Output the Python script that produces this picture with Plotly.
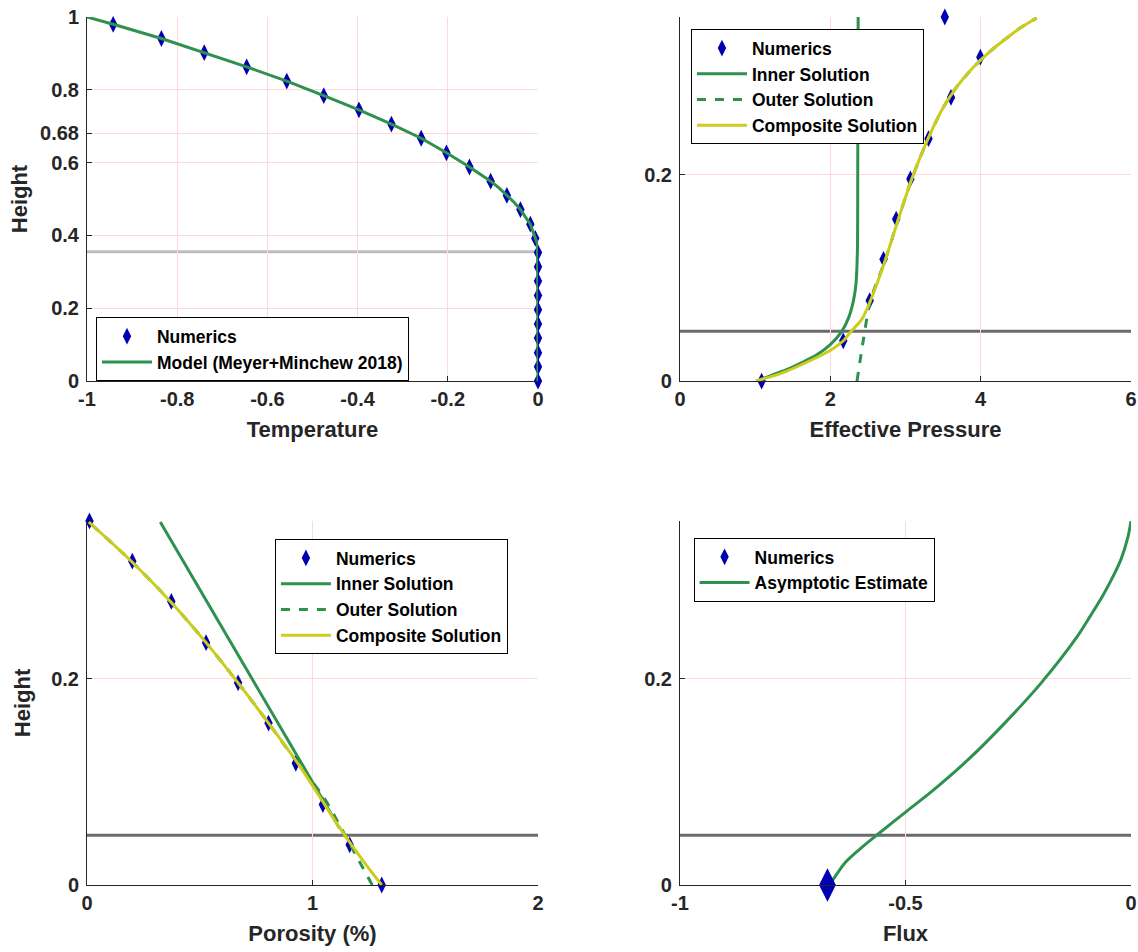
import plotly.graph_objects as go
from plotly.subplots import make_subplots

# ---------------- Panel 1: Temperature ----------------
temp_num_T = [0, 0, 0, 0, 0, 0, 0, 0, 0, 0, -0.006, -0.017, -0.039, -0.069, -0.105, -0.152,
              -0.203, -0.259, -0.325, -0.397, -0.475, -0.557, -0.646, -0.740, -0.835, -0.942]
temp_num_z = [0, 0.039, 0.078, 0.118, 0.157, 0.196, 0.235, 0.275, 0.314, 0.353, 0.392, 0.431,
              0.471, 0.510, 0.549, 0.588, 0.627, 0.667, 0.706, 0.745, 0.784, 0.824, 0.863,
              0.902, 0.941, 0.980]
temp_model_T = [0, 0, 0, -0.001, -0.003, -0.006, -0.011, -0.017, -0.027, -0.039, -0.052, -0.069,
                -0.086, -0.105, -0.152, -0.203, -0.259, -0.325, -0.397, -0.475, -0.557,
                -0.646, -0.740, -0.835, -0.942, -1.0]
temp_model_z = [0, 0.2, 0.365, 0.375, 0.383, 0.392, 0.41, 0.431, 0.45, 0.471, 0.49, 0.510, 0.53,
                0.549, 0.588, 0.627, 0.667, 0.706, 0.745, 0.784, 0.824, 0.863, 0.902, 0.941,
                0.980, 1.0]
temp_boundary = 0.355
temp_xticks = [-1, -0.8, -0.6, -0.4, -0.2, 0]
temp_xticklabels = ["-1", "-0.8", "-0.6", "-0.4", "-0.2", "0"]
temp_yticks = [0, 0.2, 0.4, 0.6, 0.68, 0.8, 1]
temp_yticklabels = ["0", "0.2", "0.4", "0.6", "0.68", "0.8", "1"]

# ---------------- Panel 2: Effective pressure ----------------
zeta_num = [0, 0.039, 0.078, 0.118, 0.157, 0.196, 0.235, 0.275, 0.314, 0.353]
pres_num = [1.086, 2.172, 2.524, 2.708, 2.876, 3.065, 3.306, 3.605, 3.996, 3.523]
pres_inner_N = [1.013, 1.2, 1.424, 1.62, 1.81, 2.003, 2.148, 2.244, 2.307, 2.341, 2.36, 2.365, 2.37]
pres_inner_z = [0, 0.005, 0.0113, 0.018, 0.025, 0.0356, 0.0476, 0.0615, 0.0777, 0.094, 0.126, 0.207, 0.353]
pres_outer_N = [2.355, 2.44, 2.534, 2.727, 2.896, 3.089, 3.306, 3.5, 3.7, 3.9, 4.1, 4.3, 4.52, 4.744]
pres_outer_z = [0, 0.04, 0.078, 0.1165, 0.155, 0.197, 0.236, 0.265, 0.287, 0.304, 0.318, 0.330, 0.342, 0.352]
pres_comp_N = [1.013, 1.2, 1.424, 1.65, 1.906, 2.05, 2.17, 2.27, 2.42, 2.534, 2.727, 2.896, 3.089,
               3.306, 3.5, 3.7, 3.9, 4.1, 4.3, 4.52, 4.744]
pres_comp_z = [0, 0.004, 0.0097, 0.017, 0.026, 0.032, 0.0388, 0.0476, 0.06, 0.078, 0.1165, 0.155,
               0.197, 0.236, 0.265, 0.287, 0.304, 0.318, 0.330, 0.342, 0.352]
layer_boundary = 0.0483
zeta_max = 0.353

# ---------------- Panel 3: Porosity ----------------
por_num = [1.307, 1.165, 1.046, 0.926, 0.805, 0.670, 0.528, 0.374, 0.201, 0.011]
por_inner_phi = [0.325, 1.12]
por_inner_z = [0.352, 0.055]
por_outer_phi = [1.265, 1.19, 1.12, 1.05, 0.935, 0.805, 0.670, 0.528, 0.374, 0.201, 0.008]
por_outer_z = [0, 0.03, 0.058, 0.085, 0.118, 0.157, 0.196, 0.235, 0.274, 0.313, 0.352]
por_comp_phi = [1.307, 1.236, 1.173, 1.113, 1.054, 0.935, 0.805, 0.670, 0.528, 0.374, 0.201, 0.008]
por_comp_z = [0, 0.02, 0.0388, 0.058, 0.078, 0.118, 0.157, 0.196, 0.235, 0.274, 0.313, 0.352]

# ---------------- Panel 4: Flux ----------------
flux_num = [-0.673]
flux_num_z = [0]
flux_est = [-0.665, -0.634, -0.602, -0.562, -0.497, -0.441, -0.360, -0.280, -0.199, -0.119,
            -0.090, -0.062, -0.040, -0.022, -0.0064, 0.0]
flux_est_z = [0.0023, 0.0216, 0.0346, 0.049, 0.0717, 0.091, 0.122, 0.157, 0.196, 0.241,
              0.261, 0.281, 0.299, 0.316, 0.338, 0.353]

BLUE = "#0000b3"
GREEN = "#2e9150"
YELLOW = "#cccc1c"
AX = "#262626"
GRID = "#ffd9d9"
FONT = "Liberation Sans, Arial, Helvetica, sans-serif"

fig = make_subplots(rows=2, cols=2)

def numerics(x, y, row, col, legend, size=12, showlegend=True, rank=1):
    fig.add_trace(go.Scatter(x=x, y=y, mode="markers", name="Numerics",
                             marker=dict(symbol="diamond-tall", size=size, color=BLUE),
                             cliponaxis=False, legend=legend, showlegend=showlegend,
                             legendrank=rank),
                  row=row, col=col)

def line(x, y, name, color, row, col, legend, dash="solid", shape="spline", rank=None):
    kw = {}
    if rank is not None:
        kw["legendrank"] = rank
    fig.add_trace(go.Scatter(x=x, y=y, mode="lines", name=name,
                             line=dict(color=color, width=3, dash=dash, shape=shape,
                                       smoothing=0.8 if shape == "spline" else None),
                             cliponaxis=False, legend=legend, **kw),
                  row=row, col=col)

# panel 1
numerics(temp_num_T, temp_num_z, 1, 1, "legend")
line(temp_model_T, temp_model_z, "Model (Meyer+Minchew 2018)", GREEN, 1, 1, "legend", shape="linear")
# panel 2
numerics(pres_num, zeta_num, 1, 2, "legend2")
line(pres_inner_N, pres_inner_z, "Inner Solution", GREEN, 1, 2, "legend2")
line(pres_outer_N, pres_outer_z, "Outer Solution", GREEN, 1, 2, "legend2", dash="dash")
line(pres_comp_N, pres_comp_z, "Composite Solution", YELLOW, 1, 2, "legend2")
# panel 3
numerics(por_num, zeta_num, 2, 1, "legend3")
line(por_inner_phi, por_inner_z, "Inner Solution", GREEN, 2, 1, "legend3", shape="linear")
line(por_outer_phi, por_outer_z, "Outer Solution", GREEN, 2, 1, "legend3", dash="dash")
line(por_comp_phi, por_comp_z, "Composite Solution", YELLOW, 2, 1, "legend3")
# panel 4
line(flux_est, flux_est_z, "Asymptotic Estimate", GREEN, 2, 2, "legend4", rank=2)
numerics(flux_num, flux_num_z, 2, 2, "legend4", size=24, showlegend=False)
fig.add_trace(go.Scatter(x=[None], y=[None], mode="markers", name="Numerics",
                         marker=dict(symbol="diamond-tall", size=12, color=BLUE),
                         legend="legend4", legendrank=1), row=2, col=2)

# boundary lines
fig.add_shape(type="line", xref="x domain", yref="y", x0=0, x1=1, y0=temp_boundary, y1=temp_boundary,
              line=dict(color="#bdbdbd", width=3), layer="below")
for xr, yr in [("x2 domain", "y2"), ("x3 domain", "y3"), ("x4 domain", "y4")]:
    fig.add_shape(type="line", xref=xr, yref=yr, x0=0, x1=1, y0=layer_boundary, y1=layer_boundary,
                  line=dict(color="#6b6b6b", width=3), layer="below")

tickfont = dict(family=FONT, size=20, color=AX, weight="bold")
titlefont = dict(family=FONT, size=22, color=AX, weight="bold")
common = dict(showline=True, linecolor=AX, linewidth=1, ticks="inside", ticklen=5,
              tickcolor=AX, showgrid=True, gridcolor=GRID, gridwidth=1, zeroline=False,
              tickfont=tickfont, mirror=False, ticklabeloverflow="allow")

xd1 = [0, 0.432]
xd2 = [0.568, 1.0]
yd_top = [0.5806, 1.0]
yd_bot = [0, 0.4194]

fig.update_layout(
    xaxis=dict(domain=xd1, range=[-1, 0], tickvals=temp_xticks, ticktext=temp_xticklabels,
               title=dict(text="Temperature", font=titlefont, standoff=12), **common),
    yaxis=dict(domain=yd_top, range=[0, 1], tickvals=temp_yticks, ticktext=temp_yticklabels,
               title=dict(text="Height", font=titlefont, standoff=6), ticklabelstandoff=3, **common),
    xaxis2=dict(domain=xd2, range=[0, 6], tickvals=[0, 2, 4, 6], ticktext=["0", "2", "4", "6"],
                title=dict(text="Effective Pressure", font=titlefont, standoff=12), **common),
    yaxis2=dict(domain=yd_top, range=[0, zeta_max], tickvals=[0, 0.2], ticktext=["0", "0.2"],
                ticklabelstandoff=3, **common),
    xaxis3=dict(domain=xd1, range=[0, 2], tickvals=[0, 1, 2], ticktext=["0", "1", "2"],
                title=dict(text="Porosity (%)", font=titlefont, standoff=12), **common),
    yaxis3=dict(domain=yd_bot, range=[0, zeta_max], tickvals=[0, 0.2], ticktext=["0", "0.2"],
                title=dict(text="Height", font=titlefont, standoff=14), ticklabelstandoff=3, **common),
    xaxis4=dict(domain=xd2, range=[-1, 0], tickvals=[-1, -0.5, 0], ticktext=["-1", "-0.5", "0"],
                title=dict(text="Flux", font=titlefont, standoff=12), **common),
    yaxis4=dict(domain=yd_bot, range=[0, zeta_max], tickvals=[0, 0.2], ticktext=["0", "0.2"],
                ticklabelstandoff=3, **common),
)

legfont = dict(family=FONT, size=17.5, color="black", weight="bold")
legcommon = dict(xanchor="left", yanchor="top", bgcolor="white", bordercolor="black",
                 borderwidth=1, font=legfont, itemwidth=50, tracegroupgap=0)
fig.update_layout(
    legend=dict(x=0.0086, y=0.654, **legcommon),
    legend2=dict(x=0.5785, y=0.986, **legcommon),
    legend3=dict(x=0.180, y=0.3986, **legcommon),
    legend4=dict(x=0.581, y=0.3998, **legcommon),
    width=1138, height=952,
    margin=dict(l=87, r=7, t=17, b=67, autoexpand=False),
    plot_bgcolor="white", paper_bgcolor="white",
    font=dict(family=FONT, color=AX),
)

fig.write_html("out.html", config={"displayModeBar": False},
               post_script="document.body.style.margin='0px';document.body.style.overflow='hidden';")
